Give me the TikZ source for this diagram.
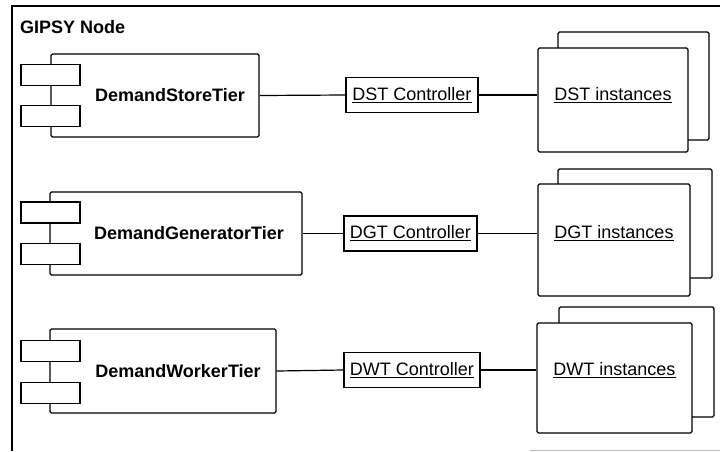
\documentclass[tikz,border=0pt]{standalone}
\usepackage{fontspec}
\setmainfont{Liberation Sans}
\newcommand\diagfont{\fontsize{18pt}{21pt}\selectfont}
\tikzset{
  stroke/.style={draw=black, line width=1.2pt},
  comp/.style={stroke, fill=white, rounded corners=1.5pt, inner sep=0pt},
  port/.style={stroke, fill=white, minimum width=59pt, minimum height=21pt, inner sep=0pt},
  compname/.style={font=\diagfont\bfseries, inner sep=0pt},
  ctrl/.style={stroke, fill=white, inner sep=0pt, font=\diagfont},
  inst/.style={stroke, fill=white, rounded corners=1.5pt, inner sep=0pt},
  instname/.style={font=\diagfont, inner sep=0pt},
  wire/.style={draw=black, line width=1.2pt}
}
\begin{document}
\begin{tikzpicture}[x=1pt, y=-1pt]
\useasboundingbox (0,0) rectangle (720,451);

% enclosing node frame
\coordinate (ftr) at (720,6);
\coordinate (ftl) at (12,6);
\coordinate (fbl) at (12,451);
\draw[stroke] (ftr) -- (ftl) -- (fbl);
\coordinate (gba) at (530,450);
\coordinate (gbb) at (720,450);
\draw[gray!55, line width=1pt] (gba) -- (gbb);
\node[font=\diagfont\bfseries, anchor=west, inner sep=0pt] (title) at (20,27) {GIPSY Node};

% ---- Demand Store Tier ----
\node[comp, minimum width=208pt, minimum height=83pt] (dst) at (155,95.5) {};
\node[port] (dstp1) at (50.5,75) {};
\node[port] (dstp2) at (50.5,116) {};
\node[compname] (dstname) at ([xshift=15pt]dst.center) {DemandStoreTier};
\node[ctrl, minimum width=132pt, minimum height=35pt] (dstc) at (412,95) {\underline{DST Controller}};
\node[inst, minimum width=151pt, minimum height=108pt] (dstb) at (633.5,86) {};
\node[inst, minimum width=150pt, minimum height=104pt] (dsti) at (613,100) {};
\node[instname] (dstin) at (dsti.center |- dstc.center) {\underline{DST instances}};
\draw[wire] (dst.east) -- (dstc.west);
\draw[wire] (dstc.east) -- (dstc.east -| dsti.west);

% ---- Demand Generator Tier ----
\node[comp, minimum width=252pt, minimum height=83pt] (dgt) at (176,233.5) {};
\node[port] (dgtp1) at (50.5,212.5) {};
\node[port] (dgtp2) at (50.5,254) {};
\node[compname] (dgtname) at ([xshift=13pt]dgt.center) {DemandGeneratorTier};
\node[ctrl, minimum width=133pt, minimum height=35pt] (dgtc) at (410.5,233.5) {\underline{DGT Controller}};
\node[inst, minimum width=154pt, minimum height=109pt] (dgtb) at (635,223.5) {};
\node[inst, minimum width=152pt, minimum height=112pt] (dgti) at (614,240) {};
\node[instname] (dgtin) at (dgti.center |- dgtc.center) {\underline{DGT instances}};
\draw[wire] (dgt.east) -- (dgtc.west);
\draw[wire] (dgtc.east) -- (dgtc.east -| dgti.west);

% ---- Demand Worker Tier ----
\node[comp, minimum width=226pt, minimum height=84pt] (dwt) at (163,371) {};
\node[port] (dwtp1) at (50.5,351) {};
\node[port] (dwtp2) at (50.5,393) {};
\node[compname] (dwtname) at ([xshift=15pt]dwt.center) {DemandWorkerTier};
\node[ctrl, minimum width=136pt, minimum height=35pt] (dwtc) at (412,370) {\underline{DWT Controller}};
\node[inst, minimum width=155pt, minimum height=110pt] (dwtb) at (636.5,362) {};
\node[inst, minimum width=155pt, minimum height=110pt] (dwti) at (614.5,378) {};
\node[instname] (dwtin) at (dwti.center |- dwtc.center) {\underline{DWT instances}};
\draw[wire] (dwt.east) -- (dwtc.west);
\draw[wire] (dwtc.east) -- (dwtc.east -| dwti.west);
\end{tikzpicture}
\end{document}
